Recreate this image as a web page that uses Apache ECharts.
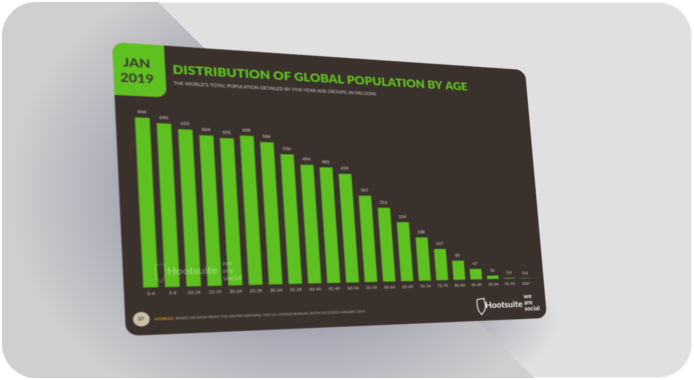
<!DOCTYPE html>
<html><head><meta charset="utf-8">
<script src="https://cdn.jsdelivr.net/npm/echarts@6/dist/echarts.min.js"></script>
<style>
html,body{margin:0;padding:0;width:694px;height:380px;overflow:hidden;background:#fff}
#panel{position:absolute;left:2px;top:2px;width:690px;height:376px;border-radius:34px;background:#e0e0e0;overflow:hidden;box-shadow:0 0 0 1px #f2f2f2 inset}
#glow{position:absolute;left:0;top:0;width:690px;height:376px;background:radial-gradient(ellipse 100px 62px at 458px 318px,#a9a9b6 0%,rgba(224,224,224,0) 100%)}
#shade{position:absolute;left:0;top:0;width:690px;height:376px;clip-path:polygon(156px 0,532px 376px,0 376px,0 0);
background:radial-gradient(ellipse 295px 240px at 300px 190px,#a5a5b3 55%,#cfcfcf 100%)}
#card{position:absolute;left:0;top:0;width:830px;height:580px;transform-origin:0 0;filter:blur(1.3px);border-radius:22px;background:#3a302c;overflow:hidden}
#chart{width:830px;height:580px}
</style></head><body>
<div id="panel"><div id="glow"></div><div id="shade"></div></div>
<div id="card"><div id="chart"></div></div>
<script>
var categories=['0-4','5-9','10-14','15-19','20-24','25-29','30-34','35-39','40-44','45-49','50-54','55-59','60-64','65-69','70-74','75-79','80-84','85-89','90-94','95-99','100+'];
var population=[666,646,625,604,595,608,584,536,494,485,459,367,316,254,188,137,85,47,16,3.9,0.6];
var titleText='DISTRIBUTION OF GLOBAL POPULATION BY AGE';
var subtitleText="THE WORLD'S TOTAL POPULATION DETAILED BY FIVE-YEAR AGE GROUPS, IN MILLIONS";
var sourceHead='SOURCES:';
var sourceText='BASED ON DATA FROM THE UNITED NATIONS; THE U.S. CENSUS BUREAU; BOTH ACCESSED JANUARY 2019.';
var GREEN='#5fc022',FONT='Lato, "Open Sans", sans-serif';
var W=830,H=580;
var quad=[[112,42],[525,70],[547,318],[126,336]];
(function(){
 var x0=quad[0][0],y0=quad[0][1],x1=quad[1][0],y1=quad[1][1],x2=quad[2][0],y2=quad[2][1],x3=quad[3][0],y3=quad[3][1];
 var dx1=x1-x2,dx2=x3-x2,sx=x0-x1+x2-x3,dy1=y1-y2,dy2=y3-y2,sy=y0-y1+y2-y3;
 var den=dx1*dy2-dx2*dy1,g=(sx*dy2-dx2*sy)/den,h=(dx1*sy-sx*dy1)/den;
 var a=x1-x0+g*x1,b=x3-x0+h*x3,d=y1-y0+g*y1,e=y3-y0+h*y3;
 document.getElementById('card').style.transform='matrix3d('+[a/W,d/W,0,g/W,b/H,e/H,0,h/H,0,0,1,0,x0,y0,0,1].join(',')+')';
})();
var chart=echarts.init(document.getElementById('chart'),null,{renderer:'canvas',width:W,height:H,devicePixelRatio:2});
function txt(l,t,s,size,fill,weight){return {type:'text',z:100,left:l,top:t,silent:true,style:{text:s,fontSize:size,fill:fill,fontWeight:weight||'normal',fontFamily:FONT}};}
function shield(l,t,col){return {type:'polyline',z:100,left:l,top:t,silent:true,shape:{points:[[0,2],[16,0],[18,18],[15,27],[8,36],[2,27],[0,18],[0,2]]},style:{fill:'none',stroke:col,lineWidth:2}};}
chart.setOption({
 animation:false,backgroundColor:'transparent',
 title:[{text:titleText,left:103,top:37,padding:0,textStyle:{color:GREEN,fontSize:25.2,fontWeight:800,fontFamily:FONT}},
        {text:subtitleText,left:103,top:72,padding:0,textStyle:{color:'#d9d5d2',fontSize:9.5,fontWeight:'normal',fontFamily:FONT}}],
 grid:{left:27,right:23,top:150,bottom:92},
 xAxis:{type:'category',data:categories,axisLine:{show:false},axisTick:{show:false},axisLabel:{color:'#d9d5d2',fontSize:8.5,margin:8,fontFamily:FONT,interval:0}},
 yAxis:{type:'value',min:0,max:666,show:false,splitLine:{show:false}},
 series:[{type:'bar',data:population,barWidth:'70%',itemStyle:{color:GREEN,borderColor:'#4da31b',borderWidth:1},
   label:{show:true,position:'top',distance:7,color:'#e6e2df',fontSize:9,fontFamily:FONT}}],
 graphic:[
  {type:'rect',left:0,top:0,silent:true,shape:{width:90,height:107,r:[0,0,18,0]},style:{fill:GREEN}},
  txt(17,28,'JAN',25,'#3a302c',700),
  txt(11,59,'2019',25,'#3a302c',700),
  {type:'circle',left:13,top:535,silent:true,shape:{r:14},style:{fill:'#cdbfa9'}},
  txt(21,544,'37',9,'#3a302c',700),
  txt(49,546,sourceHead,7,'#f09a1a',700),
  txt(85,546,sourceText,7,'#bdb8b4'),
  shield(52,440,'rgba(255,255,255,.22)'),
  txt(75,447,'Hootsuite',20,'rgba(255,255,255,.35)',700),
  txt(172,436,'we',14,'rgba(255,255,255,.33)',700),
  txt(172,451,'are',14,'rgba(255,255,255,.33)',700),
  txt(172,466,'social',14,'rgba(255,255,255,.33)',700),
  shield(672,528,'#ffffff'),
  txt(692,537,'Hootsuite',19,'#ffffff',700),
  txt(780,522,'we',14,'#ffffff',700),
  txt(780,536,'are',14,'#ffffff',700),
  txt(780,550,'social',14,'#ffffff',700)
 ]
});
</script></body></html>
